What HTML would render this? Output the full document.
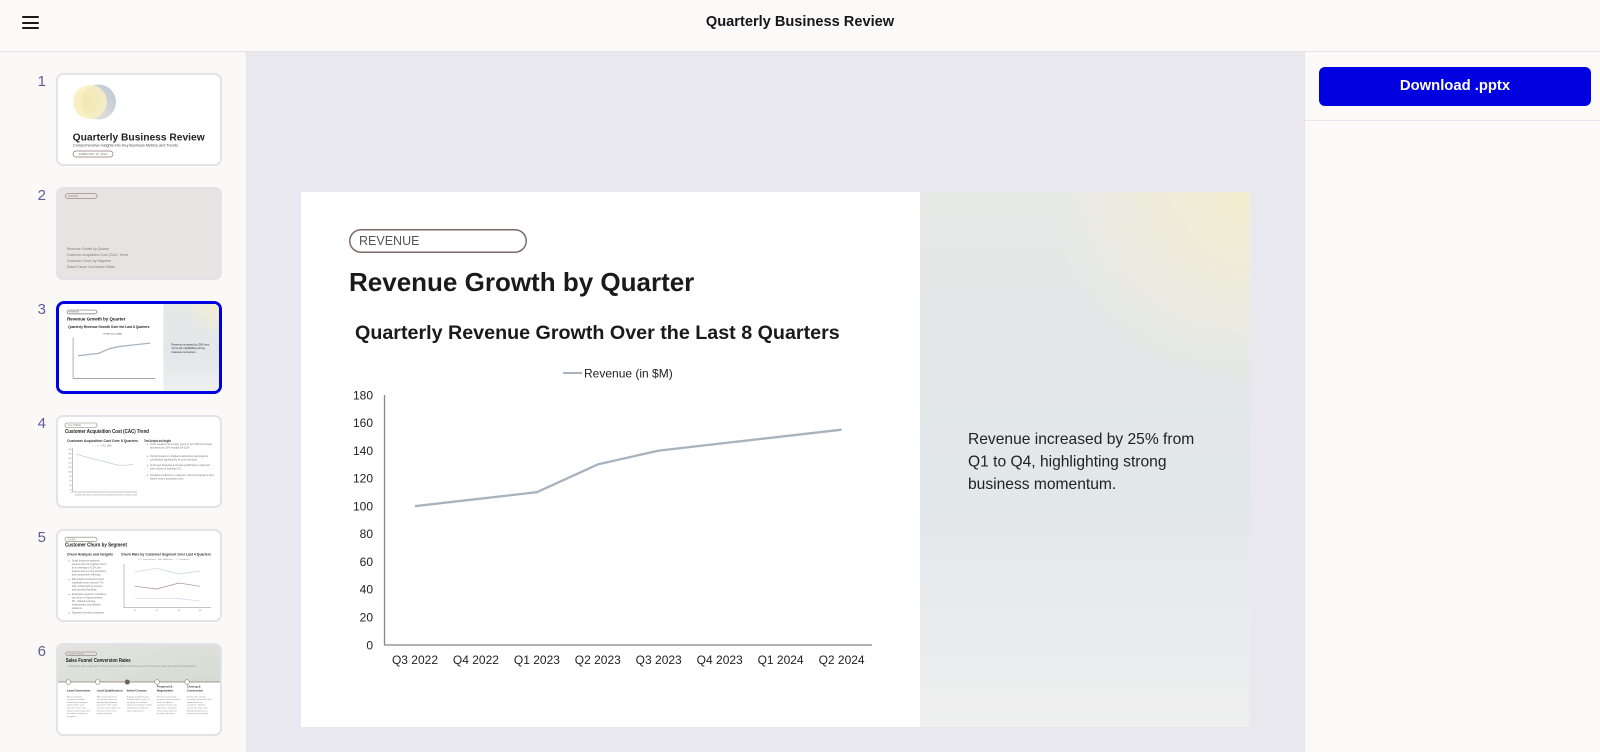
<!DOCTYPE html>
<html><head><meta charset="utf-8">
<style>
*{box-sizing:border-box;margin:0;padding:0}
html,body{width:1600px;height:752px;overflow:hidden;background:#e9e8ee;font-family:"Liberation Sans",Arial,sans-serif;position:relative}
.header{position:absolute;left:0;top:0;width:1600px;height:52px;background:#fbfaf9;border-bottom:1px solid #e5e4ea}
.ham{position:absolute;left:22px;width:17px;height:2px;background:#1a1a1a;border-radius:1px}
.htitle{position:absolute;left:0;width:1600px;top:13px;text-align:center;font-weight:bold;font-size:14.6px;color:#16161d;line-height:18px}
.side{position:absolute;left:0;top:52px;width:247px;height:700px;background:#faf9f7;border-right:1px solid #e4e3e9}
.num{position:absolute;width:46px;left:0;text-align:right;font-size:15px;color:#5e5b96;line-height:15px}
.thumb{position:absolute;left:56px;width:166px;height:93px;border:2px solid #e3e2e8;border-radius:7px;overflow:hidden;background:#fff}
.thumb svg{position:absolute;left:0;top:0;display:block}
.thumb.act{border:3px solid #0000e0;border-radius:8px}
.right{position:absolute;left:1304px;top:52px;width:296px;height:700px;background:#fbfaf9;border-left:1px solid #e5e4ea}
.btn{position:absolute;left:14px;top:15px;width:272px;height:39px;background:#0000e1;border-radius:6px;color:#fff;font-weight:bold;font-size:14.8px;text-align:center;line-height:39px}
.div{position:absolute;left:0;top:68px;width:295px;height:1px;background:#e5e4ea}
.slide{position:absolute;left:301px;top:192px;width:949px;height:535px;background:#fff}
.slide svg{display:block}
</style></head>
<body>
<div class="header">
  <div class="ham" style="top:16px"></div>
  <div class="ham" style="top:21.5px"></div>
  <div class="ham" style="top:27px"></div>
  <div class="htitle">Quarterly Business Review</div>
</div>

<div class="side"></div>

<div class="num" style="top:74px">1</div>
<div class="num" style="top:188px">2</div>
<div class="num" style="top:302px">3</div>
<div class="num" style="top:416px">4</div>
<div class="num" style="top:530px">5</div>
<div class="num" style="top:644px">6</div>

<!-- Thumb 1 -->
<div class="thumb" style="top:73px">
<svg width="162" height="89" viewBox="0 0 162 89">
<defs>
<radialGradient id="c1" cx="0.4" cy="0.5" r="0.6"><stop offset="0" stop-color="#f5eaa8"/><stop offset="1" stop-color="#f9f1c6"/></radialGradient>
<linearGradient id="c2" x1="1" y1="0" x2="0" y2="1"><stop offset="0" stop-color="#b9c6d3"/><stop offset="1" stop-color="#ece6df"/></linearGradient>
</defs>
<circle cx="40.5" cy="27" r="17.5" fill="url(#c2)"/>
<circle cx="32" cy="27" r="17" fill="url(#c1)" opacity="0.85"/>
<text x="14.7" y="65.7" font-size="10.2" font-weight="bold" fill="#222" textLength="132" lengthAdjust="spacingAndGlyphs">Quarterly Business Review</text>
<text x="15" y="71.7" font-size="4" fill="#444" textLength="105" lengthAdjust="spacingAndGlyphs">Comprehensive Insights into Key Business Metrics and Trends</text>
<rect x="15" y="76" width="40" height="6" rx="3" fill="none" stroke="#8a7a76" stroke-width="0.7"/>
<text x="21" y="80.2" font-size="2.6" fill="#777" textLength="28" lengthAdjust="spacingAndGlyphs">FEBRUARY 20, 2024</text>
</svg>
</div>

<!-- Thumb 2 -->
<div class="thumb" style="top:187px;background:#e7e3e3">
<svg width="162" height="89" viewBox="0 0 162 89">
<rect x="7.5" y="4.7" width="31.5" height="5" rx="2.5" fill="none" stroke="#8a7a76" stroke-width="0.6"/>
<text x="10" y="8.2" font-size="2.4" fill="#888">AGENDA</text>
<text x="9" y="61" font-size="3.6" fill="#7a7a7a" textLength="42" lengthAdjust="spacingAndGlyphs">Revenue Growth by Quarter</text>
<text x="9" y="67" font-size="3.6" fill="#7a7a7a" textLength="61" lengthAdjust="spacingAndGlyphs">Customer Acquisition Cost (CAC) Trend</text>
<text x="9" y="73" font-size="3.6" fill="#7a7a7a" textLength="44" lengthAdjust="spacingAndGlyphs">Customer Churn by Segment</text>
<text x="9" y="79" font-size="3.6" fill="#7a7a7a" textLength="48" lengthAdjust="spacingAndGlyphs">Sales Funnel Conversion Rates</text>
</svg>
</div>

<!-- Thumb 3 (active) -->
<div class="thumb act" style="top:301px">
<svg width="160" height="88" viewBox="0 0 949 535" preserveAspectRatio="none">
<defs>
<linearGradient id="pg2" x1="0" y1="0" x2="0" y2="1"><stop offset="0" stop-color="#e7e9e7"/><stop offset="0.55" stop-color="#e2e7ea"/><stop offset="1" stop-color="#efefef"/></linearGradient>
<radialGradient id="py2" cx="330" cy="0" r="200" gradientUnits="userSpaceOnUse"><stop offset="0" stop-color="#f6eecb" stop-opacity="0.85"/><stop offset="1" stop-color="#f6eecb" stop-opacity="0"/></radialGradient>
</defs>
<rect width="949" height="535" fill="#fff"/>
<g transform="translate(619,0)">
<rect width="330" height="535" fill="url(#pg2)"/>
<rect width="330" height="535" fill="url(#py2)"/>
<text font-size="15.6" fill="#222"><tspan x="48" y="252">Revenue increased by 25% from</tspan><tspan x="48" y="274.5">Q1 to Q4, highlighting strong</tspan><tspan x="48" y="297">business momentum.</tspan></text>
</g>
<rect x="48" y="37" width="177" height="23" rx="11.5" fill="none" stroke="#7b6b67" stroke-width="4"/>
<text x="58" y="53" font-size="12.5" fill="#555">REVENUE</text>
<text x="48" y="99" font-size="26" font-weight="bold" fill="#1a1a1a">Revenue Growth by Quarter</text>
<text x="54" y="147" font-size="19.7" font-weight="bold" fill="#1a1a1a">Quarterly Revenue Growth Over the Last 8 Quarters</text>
<line x1="262" y1="181" x2="281" y2="181" stroke="#a7b4bf" stroke-width="6"/>
<text x="283" y="185.5" font-size="12" fill="#222">Revenue (in $M)</text>
<line x1="83.5" y1="203" x2="83.5" y2="453" stroke="#888" stroke-width="4"/>
<line x1="83.5" y1="453" x2="571" y2="453" stroke="#888" stroke-width="4"/>
<polyline points="113.97,314.1 174.9,307.2 235.85,300.2 296.8,272.4 357.7,258.6 418.7,251.6 479.6,244.7 540.6,237.7" fill="none" stroke="#a7b4bf" stroke-width="8"/>
</svg>
</div>

<!-- Thumb 4 -->
<div class="thumb" style="top:415px">
<svg width="162" height="89" viewBox="0 0 162 89">
<rect x="7" y="6" width="32" height="4.5" rx="2.2" fill="none" stroke="#8a7a76" stroke-width="0.6"/>
<text x="9.5" y="9.2" font-size="2.3" fill="#888">CAC TREND</text>
<text x="7" y="16" font-size="5.8" font-weight="bold" fill="#222" textLength="84" lengthAdjust="spacingAndGlyphs">Customer Acquisition Cost (CAC) Trend</text>
<text x="9" y="25" font-size="3.6" font-weight="bold" fill="#333" textLength="71" lengthAdjust="spacingAndGlyphs">Customer Acquisition Cost Over 8 Quarters</text>
<text x="86" y="25" font-size="3.6" font-weight="bold" fill="#333" textLength="27" lengthAdjust="spacingAndGlyphs">Trend Analysis and Insights</text>
<line x1="37" y1="28.5" x2="42" y2="28.5" stroke="#c5cdd4" stroke-width="0.6"/>
<text x="43" y="29.5" font-size="2.4" fill="#888">CAC ($M)</text>
<g font-size="1.9" fill="#777" text-anchor="end">
<text x="13.5" y="33">200</text><text x="13.5" y="37.5">180</text><text x="13.5" y="42">160</text><text x="13.5" y="46.5">140</text><text x="13.5" y="51">120</text><text x="13.5" y="55.5">100</text><text x="13.5" y="60">80</text><text x="13.5" y="64.5">60</text><text x="13.5" y="69">40</text><text x="13.5" y="73.5">20</text><text x="13.5" y="76">0</text>
</g>
<line x1="14.7" y1="31" x2="14.7" y2="75" stroke="#888" stroke-width="0.5"/>
<line x1="14.7" y1="75" x2="79" y2="75" stroke="#888" stroke-width="0.5"/>
<path d="M18,37 L28,40 L40,43 L50,45.5 L59,48 L66,48.3 L75,47.5" fill="none" stroke="#c5cdd4" stroke-width="0.7"/>
<text x="17" y="78.5" font-size="1.8" fill="#777" textLength="62" lengthAdjust="spacingAndGlyphs">Q3 2022 Q4 2022 Q1 2023 Q2 2023 Q3 2023 Q4 2023 Q1 2024 Q2 2024</text>
<g fill="#777" font-size="2.5">
<circle cx="89.5" cy="27.2" r="0.5" fill="#666"/><text x="92" y="28" textLength="62" lengthAdjust="spacingAndGlyphs">CAC peaked at a high point in Q1 2023 but has</text><text x="92" y="31.3" textLength="40" lengthAdjust="spacingAndGlyphs">decreased by 20% through Q4 2024.</text>
<circle cx="89.5" cy="39.2" r="0.5" fill="#666"/><text x="92" y="40" textLength="58" lengthAdjust="spacingAndGlyphs">Optimization in digital marketing campaigns</text><text x="92" y="43.3" textLength="48" lengthAdjust="spacingAndGlyphs">contributed significantly to cost reduction.</text>
<circle cx="89.5" cy="48.2" r="0.5" fill="#666"/><text x="92" y="49" textLength="60" lengthAdjust="spacingAndGlyphs">Improved targeting and lead qualification enhanced</text><text x="92" y="52.3" textLength="32" lengthAdjust="spacingAndGlyphs">sales efficiency, lowering CAC.</text>
<circle cx="89.5" cy="58.2" r="0.5" fill="#666"/><text x="92" y="59" textLength="64" lengthAdjust="spacingAndGlyphs">Sustained efforts in customer referral programs also</text><text x="92" y="62.3" textLength="34" lengthAdjust="spacingAndGlyphs">helped reduce acquisition costs.</text>
</g>
</svg>
</div>

<!-- Thumb 5 -->
<div class="thumb" style="top:529px">
<svg width="162" height="89" viewBox="0 0 162 89">
<rect x="7" y="6.2" width="32" height="4.5" rx="2.2" fill="none" stroke="#8a7a76" stroke-width="0.6"/>
<text x="9.5" y="9.4" font-size="2.3" fill="#888">CHURN</text>
<text x="7" y="15.7" font-size="5.8" font-weight="bold" fill="#222" textLength="62" lengthAdjust="spacingAndGlyphs">Customer Churn by Segment</text>
<text x="9" y="24.7" font-size="3.5" font-weight="bold" fill="#333" textLength="46" lengthAdjust="spacingAndGlyphs">Churn Analysis and Insights</text>
<text x="63" y="24.7" font-size="3.5" font-weight="bold" fill="#333" textLength="90" lengthAdjust="spacingAndGlyphs">Churn Rate by Customer Segment Over Last 4 Quarters</text>
<g fill="#777" font-size="2.6">
<circle cx="11" cy="30" r="0.5" fill="#666"/>
<text x="13.7" y="30.7">Small business segment</text><text x="13.7" y="34.2">experiences the highest churn</text><text x="13.7" y="37.7">at an average of 12% per</text><text x="13.7" y="41.2">quarter due to price sensitivity</text><text x="13.7" y="44.7">and competitive offerings.</text>
<circle cx="11" cy="48.5" r="0.5" fill="#666"/>
<text x="13.7" y="49.2">Mid-market customers show</text><text x="13.7" y="52.7">moderate churn around 7%,</text><text x="13.7" y="56.2">often influenced by service</text><text x="13.7" y="59.7">and contract flexibility.</text>
<circle cx="11" cy="63.5" r="0.5" fill="#666"/>
<text x="13.7" y="64.2">Enterprise segment maintains</text><text x="13.7" y="67.7">low churn of approximately</text><text x="13.7" y="71.2">3%, reflecting strong</text><text x="13.7" y="74.7">relationships and tailored</text><text x="13.7" y="78.2">solutions.</text>
<circle cx="11" cy="82" r="0.5" fill="#666"/>
<text x="13.7" y="82.7">Targeted retention programs</text>
</g>
<g font-size="1.9" fill="#888">
<line x1="80" y1="28.2" x2="84" y2="28.2" stroke="#c8d2da" stroke-width="0.6"/><text x="85" y="29">Small Business</text>
<line x1="100" y1="28.2" x2="104" y2="28.2" stroke="#a8928e" stroke-width="0.6"/><text x="105" y="29">Mid-Market</text>
<line x1="117" y1="28.2" x2="121" y2="28.2" stroke="#d8d6ee" stroke-width="0.6"/><text x="122" y="29">Enterprise</text>
</g>
<line x1="66" y1="33" x2="66" y2="76.7" stroke="#888" stroke-width="0.5"/>
<line x1="66" y1="76.7" x2="153" y2="76.7" stroke="#888" stroke-width="0.5"/>
<polyline points="77,40.7 98.7,37.3 121,43 142,40" fill="none" stroke="#c8d2da" stroke-width="0.7"/>
<polyline points="77,55.3 98.7,58 121,52 142,55.3" fill="none" stroke="#a8928e" stroke-width="0.7"/>
<polyline points="77,67.3 98.7,67.3 121,67.6 142,70" fill="none" stroke="#d8d6ee" stroke-width="0.7"/>
<g font-size="1.8" fill="#777" text-anchor="middle"><text x="77" y="80">Q1</text><text x="98.7" y="80">Q2</text><text x="121" y="80">Q3</text><text x="142" y="80">Q4</text></g>
</svg>
</div>

<!-- Thumb 6 -->
<div class="thumb" style="top:643px">
<svg width="162" height="89" viewBox="0 0 162 89">
<defs><linearGradient id="tg6" x1="0" y1="0" x2="1" y2="1"><stop offset="0" stop-color="#e4e4e0"/><stop offset="1" stop-color="#d5dcd1"/></linearGradient></defs>
<rect width="162" height="37" fill="url(#tg6)"/>
<rect x="7.7" y="7" width="31" height="3.6" rx="1.8" fill="none" stroke="#8a7a76" stroke-width="0.6"/>
<text x="10" y="9.7" font-size="2.2" fill="#888">SALES FUNNEL</text>
<text x="7.7" y="17" font-size="5.6" font-weight="bold" fill="#222" textLength="65" lengthAdjust="spacingAndGlyphs">Sales Funnel Conversion Rates</text>
<text x="10" y="22" font-size="2.4" fill="#999" textLength="128" lengthAdjust="spacingAndGlyphs">Optimizing each stage of the sales funnel is critical to improving overall conversion rates and reducing bottlenecks</text>
<line x1="0" y1="37" x2="162" y2="37" stroke="#8a7a76" stroke-width="0.7"/>
<g stroke="#8a7a76" stroke-width="0.6" fill="#fff">
<circle cx="10.3" cy="37" r="2.3"/><circle cx="39.7" cy="37" r="2.3"/><circle cx="69.3" cy="37" r="2.3" fill="#6d5d5a"/><circle cx="99" cy="37" r="2.3"/><circle cx="129" cy="37" r="2.3"/>
</g>
<g font-size="3" font-weight="bold" fill="#333">
<text x="8.7" y="46.7">Lead Generation</text><text x="38.7" y="46.7">Lead Qualification</text><text x="68.7" y="46.7">Initial Contact</text>
<text x="98.7" y="42.7">Proposal &amp;</text><text x="98.7" y="46.7">Negotiation</text>
<text x="128.7" y="42.7">Closing &amp;</text><text x="128.7" y="46.7">Conversion</text>
</g>
<g font-size="2.2" fill="#888">
<text x="8.7" y="52.3">Attract potential</text><text x="8.7" y="55.1">customers through</text><text x="8.7" y="57.9">marketing campaigns,</text><text x="8.7" y="60.7">social media, and</text><text x="8.7" y="63.5">referrals. This is the</text><text x="8.7" y="66.3">widest funnel stage with</text><text x="8.7" y="69.1">the highest volume of</text><text x="8.7" y="71.9">prospects.</text>
<text x="38.7" y="52.3">Filter leads based on</text><text x="38.7" y="55.1">conversion criteria to</text><text x="38.7" y="57.9">identify high-potential</text><text x="38.7" y="60.7">prospects. This stage</text><text x="38.7" y="63.5">ensures sales efforts are</text><text x="38.7" y="66.3">focused on the most</text><text x="38.7" y="69.1">promising leads.</text>
<text x="68.7" y="52.3">Engage qualified leads</text><text x="68.7" y="55.1">through calls, emails, or</text><text x="68.7" y="57.9">meetings to establish</text><text x="68.7" y="60.7">interest and gather further</text><text x="68.7" y="63.5">information for tailored</text><text x="68.7" y="66.3">sales approaches.</text>
<text x="98.7" y="52.3">Present customized</text><text x="98.7" y="55.1">proposals and negotiate</text><text x="98.7" y="57.9">terms to address</text><text x="98.7" y="60.7">customer needs and</text><text x="98.7" y="63.5">objections, aiming to</text><text x="98.7" y="66.3">move leads closer to</text><text x="98.7" y="69.1">purchase decision.</text>
<text x="128.7" y="52.3">Finalize the sale by</text><text x="128.7" y="55.1">securing agreements and</text><text x="128.7" y="57.9">onboarding new</text><text x="128.7" y="60.7">customers. Monitor</text><text x="128.7" y="63.5">conversion rates and</text><text x="128.7" y="66.3">identify bottlenecks to</text><text x="128.7" y="69.1">improve future funnels.</text>
</g>
</svg>
</div>

<!-- Main slide -->
<div class="slide">
<svg width="949" height="535" viewBox="0 0 949 535">
<defs>
<linearGradient id="pg" x1="0" y1="0" x2="0" y2="1"><stop offset="0" stop-color="#e7e9e7"/><stop offset="0.55" stop-color="#e2e7ea"/><stop offset="1" stop-color="#efefef"/></linearGradient>
<radialGradient id="py" cx="330" cy="0" r="200" gradientUnits="userSpaceOnUse"><stop offset="0" stop-color="#f6eecb" stop-opacity="0.85"/><stop offset="1" stop-color="#f6eecb" stop-opacity="0"/></radialGradient>
</defs>
<g transform="translate(619,0)">
<rect width="330" height="535" fill="url(#pg)"/>
<rect width="330" height="535" fill="url(#py)"/>
<text font-size="15.6" fill="#222"><tspan x="48" y="252">Revenue increased by 25% from</tspan><tspan x="48" y="274.5">Q1 to Q4, highlighting strong</tspan><tspan x="48" y="297">business momentum.</tspan></text>
</g>
<rect x="48.75" y="37.75" width="176.5" height="22.5" rx="11.25" fill="none" stroke="#7b6b67" stroke-width="1.5"/>
<text x="58" y="53" font-size="12.5" fill="#555">REVENUE</text>
<text x="48" y="99" font-size="26" font-weight="bold" fill="#1a1a1a">Revenue Growth by Quarter</text>
<text x="54" y="147" font-size="19.7" font-weight="bold" fill="#1a1a1a">Quarterly Revenue Growth Over the Last 8 Quarters</text>
<line x1="262" y1="181" x2="281" y2="181" stroke="#a7b4bf" stroke-width="2"/>
<text x="283" y="185.5" font-size="12" fill="#222">Revenue (in $M)</text>
<g font-size="12" fill="#222" text-anchor="end">
<text x="72" y="457.3">0</text>
<text x="72" y="429.5">20</text>
<text x="72" y="401.7">40</text>
<text x="72" y="374">60</text>
<text x="72" y="346.2">80</text>
<text x="72" y="318.4">100</text>
<text x="72" y="290.6">120</text>
<text x="72" y="262.9">140</text>
<text x="72" y="235.1">160</text>
<text x="72" y="207.3">180</text>
</g>
<line x1="83.5" y1="203" x2="83.5" y2="453.5" stroke="#888" stroke-width="1.3"/>
<line x1="83" y1="453" x2="571" y2="453" stroke="#888" stroke-width="1.3"/>
<g font-size="12" fill="#222" text-anchor="middle">
<text x="114" y="472">Q3 2022</text>
<text x="174.9" y="472">Q4 2022</text>
<text x="235.9" y="472">Q1 2023</text>
<text x="296.8" y="472">Q2 2023</text>
<text x="357.7" y="472">Q3 2023</text>
<text x="418.7" y="472">Q4 2023</text>
<text x="479.6" y="472">Q1 2024</text>
<text x="540.6" y="472">Q2 2024</text>
</g>
<polyline points="113.97,314.1 174.9,307.2 235.85,300.2 296.8,272.4 357.7,258.6 418.7,251.6 479.6,244.7 540.6,237.7" fill="none" stroke="#a7b4bf" stroke-width="2.3" stroke-linejoin="round"/>
</svg>
</div>

<div class="right">
  <div class="btn">Download .pptx</div>
  <div class="div"></div>
</div>
</body></html>
